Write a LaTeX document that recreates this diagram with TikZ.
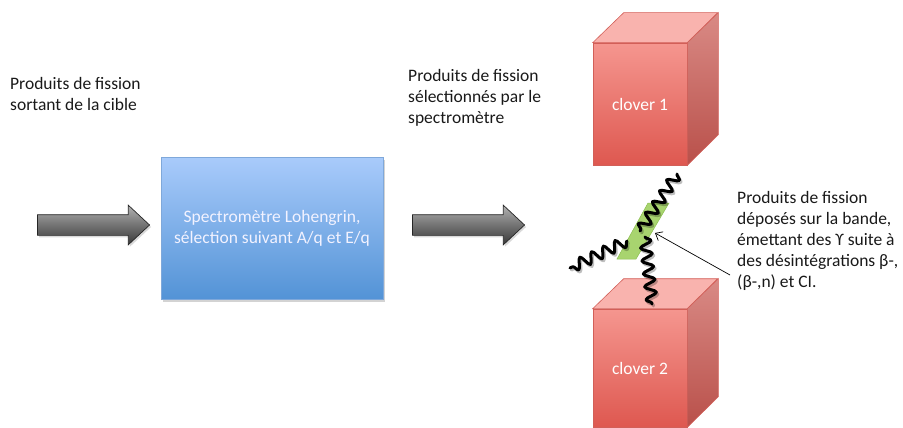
\documentclass[tikz,border=0pt]{standalone}
\usepackage{fontspec}
\setmainfont{Carlito}
\usetikzlibrary{shapes.arrows,decorations.pathmorphing,shadows,arrows.meta}

\definecolor{boxtop}{HTML}{A9CBFB}
\definecolor{boxbot}{HTML}{5393D6}
\definecolor{boxedge}{HTML}{7FA8DA}
\definecolor{redtop}{HTML}{F5968F}
\definecolor{redbot}{HTML}{DE5850}
\definecolor{redlid}{HTML}{F9B3AE}
\definecolor{redsidetop}{HTML}{D98A85}
\definecolor{redsidebot}{HTML}{B9504A}
\definecolor{rededge}{HTML}{D25F58}
\definecolor{tape}{HTML}{A8D46F}
\definecolor{tapeedge}{HTML}{8BBE4F}

\begin{document}
\begin{tikzpicture}[x=1pt,y=-1pt,
  txt/.style={font=\fontsize{17.5}{21}\selectfont, text=black!90, align=left, inner sep=0pt},
  flowarrow/.style={single arrow, draw=black!85, line width=0.7pt,
    minimum height=112pt, minimum width=39pt, single arrow head extend=9.5pt,
    single arrow tip angle=86, inner sep=0pt, inner ysep=10pt,
    top color=black!30, bottom color=black!78, middle color=black!55,
    drop shadow={opacity=0.3, shadow xshift=1.5pt, shadow yshift=-2pt}},
  stage/.style={draw=boxedge, line width=0.5pt, top color=boxtop, bottom color=boxbot,
    minimum width=222pt, minimum height=142pt, inner sep=0pt,
    font=\fontsize{17.5}{21}\selectfont, text=white!95!blue, align=center,
    drop shadow={opacity=0.35, shadow xshift=1.5pt, shadow yshift=-2.5pt}},
  front/.style={draw=rededge, line width=0.6pt, top color=redtop, bottom color=redbot,
    minimum width=94pt, minimum height=#1, inner sep=0pt,
    font=\fontsize{17.5}{21}\selectfont, text=white},
  lid/.style={draw=rededge, line width=0.6pt, fill=redlid},
  side/.style={draw=rededge, line width=0.6pt, top color=redsidetop, bottom color=redsidebot},
  gamma/.style={line width=3pt, line cap=round, line join=round, draw=black,
    decorate, decoration={snake, amplitude=5.5pt, segment length=13pt}},
  gammashade/.style={gamma, draw=black, opacity=0.25, transform canvas={shift={(1.5,2)}}}
]
\useasboundingbox (0,0) rectangle (903,428);

% source and selection chain
\node[txt, anchor=west] (src) at (10,94) {Produits de fission\\sortant de la cible};
\node[flowarrow] (arrIn) at (88,225) {};
\node[stage] (lohengrin) at (272,228) {Spectromètre Lohengrin,\\sélection suivant A/q et E/q};
\node[flowarrow] (arrOut) at (463,225) {};
\node[txt, anchor=west] (sel) at (408,98) {Produits de fission\\sélectionnés par le\\spectromètre};

% upper detector
\node[front=122pt] (clover1) at (640,104) {clover 1};
\path[lid] (clover1.north west) -- ++(31,-30) -- ++(94,0) -- (clover1.north east) -- cycle;
\path[side] (clover1.north east) -- ++(31,-30) -- ++(0,122) -- (clover1.south east) -- cycle;

% lower detector
\node[front=118pt] (clover2) at (640,368) {clover 2};
\path[lid] (clover2.north west) -- ++(31,-30) -- ++(94,0) -- (clover2.north east) -- cycle;
\path[side] (clover2.north east) -- ++(31,-30) -- ++(0,118) -- (clover2.south east) -- cycle;

% collection tape
\coordinate (t1) at (648,203);
\coordinate (t2) at (669,203);
\coordinate (t3) at (636,259);
\coordinate (t4) at (617,259);
\filldraw[fill=tape, draw=tapeedge, line width=0.5pt] (t1) -- (t2) -- (t3) -- (t4) -- cycle;

% emitted gamma rays
\coordinate (g1a) at (677,174); \coordinate (g1b) at (640,231);
\coordinate (g2a) at (627,241); \coordinate (g2b) at (570,268);
\coordinate (g3a) at (645,237); \coordinate (g3b) at (652,304);
\foreach \a/\b in {g1a/g1b, g2a/g2b, g3a/g3b} {
  \draw[gammashade] (\a) -- (\b);
  \draw[gamma] (\a) -- (\b);
}

% description of the deposited products
\node[txt, anchor=west] (dep) at (737,241)
  {Produits de fission\\déposés sur la bande,\\émettant des ϒ suite à\\des désintégrations β-,\\(β-,n) et CI.};
\coordinate (ptip) at (655,233);
\coordinate (ptail) at (730,275);
\draw[line width=0.7pt, -{Straight Barb[length=6pt,width=10pt]}] (ptail) -- (ptip);
\end{tikzpicture}
\end{document}
